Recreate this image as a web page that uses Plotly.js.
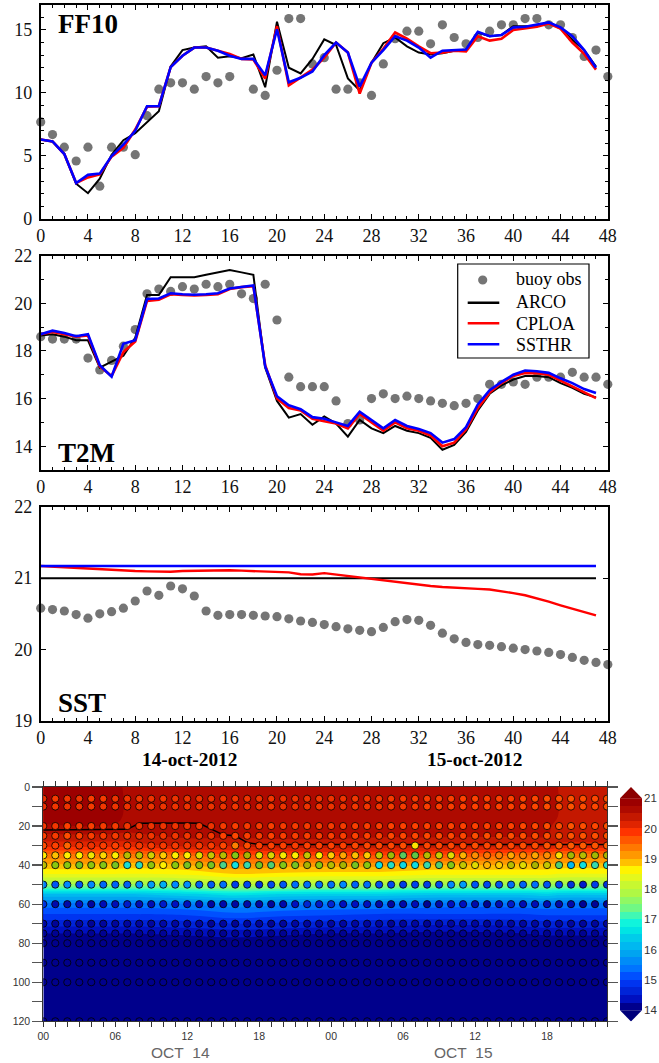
<!DOCTYPE html>
<html><head><meta charset="utf-8">
<script src="https://cdn.plot.ly/plotly-3.0.1.min.js"></script>
<style>html,body{margin:0;padding:0;background:#fff}#p{width:659px;height:1063px}</style></head>
<body><div id="p"></div>
<script>
const hours=[0,1,2,3,4,5,6,7,8,9,10,11,12,13,14,15,16,17,18,19,20,21,22,23,24,25,26,27,28,29,30,31,32,33,34,35,36,37,38,39,40,41,42,43,44,45,46,47];
const obsHours=[0,1,2,3,4,5,6,7,8,9,10,11,12,13,14,15,16,17,18,19,20,21,22,23,24,25,26,27,28,29,30,31,32,33,34,35,36,37,38,39,40,41,42,43,44,45,46,47,48];

const ffObs=[7.7,6.7,5.7,4.6,5.7,2.6,5.7,5.7,5.1,8.2,10.3,10.8,10.8,10.3,11.3,10.8,11.3,null,10.3,9.8,11.8,15.9,15.9,12.3,12.8,10.3,10.3,10.8,9.8,12.3,14.3,14.9,14.9,13.9,15.4,14.4,13.9,14.4,14.9,15.4,15.4,15.9,15.9,15.4,15.4,14.4,12.9,13.4,11.3];
const ffArco=[6.3,6.15,5.15,2.8,2.05,3.2,5.1,6.25,6.8,7.65,8.55,12.1,13.4,13.6,13.7,12.8,12.9,12.75,13.05,10.45,15.65,12.0,11.55,12.7,14.25,13.8,11.15,10.2,12.4,13.95,14.4,13.7,13.2,13.05,13.15,13.35,13.45,14.8,14.5,14.6,15.3,15.3,15.3,15.6,15.1,14.2,13.4,12.1];
const ffCploa=[6.3,6.15,5.15,2.85,3.3,3.55,4.95,5.65,7.1,8.9,8.95,12.05,12.95,13.6,13.6,13.35,13.1,12.7,12.65,11.15,15.3,10.6,11.2,11.85,12.8,14.0,13.2,9.95,12.4,13.5,14.8,14.3,13.7,13.15,13.2,13.35,13.3,14.5,14.15,14.3,15.0,15.1,15.25,15.5,15.1,14.0,13.1,11.85];
const ffSsthr=[6.3,6.15,5.15,2.85,3.5,3.6,5.0,5.9,7.0,8.95,8.95,12.05,12.95,13.6,13.6,13.35,12.95,12.7,12.7,11.4,15.05,10.85,11.2,11.7,13.0,14.0,13.2,10.5,12.4,13.4,14.5,14.15,13.6,12.8,13.35,13.4,13.45,14.85,14.5,14.6,15.2,15.25,15.4,15.6,15.2,14.5,13.4,12.0];

const t2Obs=[18.6,18.5,18.5,18.5,17.7,17.2,17.6,18.2,18.9,20.4,20.6,20.5,20.7,20.6,20.8,20.7,20.8,20.4,20.2,20.8,19.3,16.9,16.5,16.5,16.5,15.9,14.95,15.1,16.0,16.2,16.0,16.1,16.0,15.9,15.8,15.7,15.8,16.0,16.6,16.6,16.7,16.6,16.9,16.9,16.9,17.1,16.9,16.9,16.6];
const t2Arco=[18.65,18.7,18.6,18.45,18.45,17.3,17.55,17.8,18.55,20.35,20.35,21.1,21.1,21.1,21.2,21.3,21.4,21.3,21.2,17.3,15.9,15.2,15.35,14.9,15.25,14.95,14.4,15.1,14.75,14.55,14.85,14.65,14.55,14.35,13.85,14.05,14.6,15.5,16.2,16.55,16.8,16.95,16.95,16.9,16.65,16.45,16.2,16.05];
const t2Cploa=[18.7,18.8,18.7,18.6,18.65,17.35,16.95,17.95,18.4,20.1,20.15,20.38,20.35,20.33,20.35,20.38,20.6,20.68,20.72,17.4,16.0,15.6,15.5,15.15,15.05,14.95,14.75,15.35,15.0,14.65,15.0,14.75,14.65,14.45,14.0,14.15,14.7,15.6,16.25,16.65,16.95,17.07,17.07,17.0,16.75,16.5,16.25,16.02];
const t2Ssthr=[18.7,18.85,18.75,18.62,18.7,17.4,16.92,18.3,18.45,20.18,20.2,20.42,20.38,20.36,20.38,20.42,20.62,20.7,20.75,17.35,16.1,15.72,15.55,15.22,15.15,15.0,14.85,15.45,15.1,14.75,15.1,14.85,14.72,14.55,14.15,14.3,14.8,15.75,16.35,16.7,17.0,17.18,17.15,17.08,16.85,16.65,16.4,16.23];

const sstObs=[20.58,20.56,20.54,20.49,20.44,20.5,20.53,20.58,20.68,20.82,20.76,20.89,20.85,20.75,20.54,20.48,20.49,20.49,20.48,20.47,20.46,20.43,20.4,20.38,20.35,20.32,20.29,20.27,20.25,20.31,20.39,20.42,20.41,20.34,20.23,20.15,20.1,20.07,20.06,20.04,20.02,20.0,19.98,19.96,19.93,19.89,19.85,19.82,19.79];
const sstArco=[21,21,21,21,21,21,21,21,21,21,21,21,21,21,21,21,21,21,21,21,21,21,21,21,21,21,21,21,21,21,21,21,21,21,21,21,21,21,21,21,21,21,21,21,21,21,21,21];
const sstCploa=[21.17,21.16,21.15,21.14,21.13,21.12,21.115,21.11,21.1,21.095,21.09,21.09,21.1,21.105,21.105,21.11,21.11,21.105,21.1,21.095,21.09,21.08,21.055,21.05,21.07,21.05,21.03,21.0,20.98,20.96,20.94,20.92,20.905,20.89,20.875,20.87,20.86,20.85,20.84,20.82,20.79,20.76,20.72,20.67,20.62,20.57,20.52,20.48];
const sstSsthr=[21.17,21.17,21.17,21.17,21.17,21.17,21.17,21.17,21.17,21.17,21.17,21.17,21.17,21.17,21.17,21.17,21.17,21.17,21.17,21.17,21.17,21.17,21.17,21.17,21.17,21.17,21.17,21.17,21.17,21.17,21.17,21.17,21.17,21.17,21.17,21.17,21.17,21.17,21.17,21.17,21.17,21.17,21.17,21.17,21.17,21.17,21.17,21.17];

// buoy temperature at each depth, hours 0..47
const buoyDepths=[6,10,20,25,30,35,40,50,60,70,75,80,90,100,120];
const b6=[20.2,20.1,20.15,20.2,20.05,20.1,20.2,20.2,20.15,20.2,20.15,20.2,20.2,20.2,20.2,20.15,20.15,20.2,20.2,20.15,20.2,20.2,20.2,20.15,20.2,20.2,20.15,20.15,20.15,20.1,20.1,20.1,20.05,20.05,20.05,20,20,20,20,20,19.95,19.95,19.9,19.9,19.85,19.9,19.95,19.85];
const b10=[20.2,20.15,20.2,20.2,20.1,20.15,20.2,20.2,20.2,20.2,20.2,20.2,20.2,20.2,20.2,20.2,20.15,20.2,20.2,20.15,20.2,20.2,20.2,20.15,20.2,20.2,20.15,20.15,20.15,20.1,20.1,20.1,20.05,20.05,20.05,20,20,20,20,20,19.95,19.95,19.9,19.9,19.85,19.9,19.95,19.85];
const b20=[20.1,20.15,20.0,20.1,20.05,20.1,20.1,20.15,20.2,20.2,20.2,20.2,20.2,20.15,20.2,20.1,20.05,20.1,20.1,20.05,20.1,20.1,20.1,20.1,20.1,20.1,20.05,20.05,20.05,20.0,20.0,20.0,20.0,20.0,20.0,20,20,20,20,20,19.95,19.95,19.9,19.9,19.85,19.9,19.95,19.85];
const b25=[20.0,20.1,19.9,20.0,20.05,20.1,20.1,20.1,20.15,20.15,20.15,20.15,20.15,20.15,20.15,20.0,19.95,20.05,20.05,20.0,20.05,20.05,20.05,20.05,20.05,20.05,20.0,20.0,20.0,19.95,19.95,19.95,19.95,19.95,19.95,19.95,19.9,19.9,19.9,19.9,19.9,19.9,19.9,19.85,19.85,19.85,19.9,19.85];
const b30=[19.9,20.0,19.7,20.1,20.2,20.05,20.0,20.05,20.1,20.1,20.1,20.1,20.1,20.05,20.05,19.95,19.5,19.9,20.0,20.0,20.0,20.05,20.0,20.0,20.0,20.0,19.95,19.95,19.95,19.95,19.9,18.7,19.95,19.95,19.95,19.95,19.9,19.95,19.9,19.95,19.9,19.9,19.85,19.8,19.8,19.8,19.85,19.8];
const b35=[18.6,19.0,18.6,18.6,18.5,18.8,18.6,18.1,18.15,18.3,18.9,18.6,18.6,18.4,18.2,18.1,17.7,18.0,18.45,18.35,18.55,18.6,18.2,18.6,18.9,19.2,19.0,18.9,18.2,17.9,17.3,17.4,18.1,18.25,18.4,19.1,19.4,19.6,19.5,19.2,19.4,19.2,19.4,18.75,17.95,18.1,17.95,18.0];
const b40=[18.1,17.75,17.75,17.6,17.8,17.7,17.6,16.6,16.8,17.8,18.6,17.75,17.6,17.85,17.6,17.1,16.5,16.9,17.6,17.2,17.7,17.6,18.0,17.75,18.1,18.0,17.6,17.75,16.5,16.7,16.4,16.45,16.9,17.2,17.7,18.2,18.4,19.1,18.9,18.1,18.4,18.0,18.2,17.2,16.0,16.5,16.9,16.7];
const b50=[15.4,15.1,15.5,15.1,15.5,15.25,15.2,15.2,15.6,15.7,15.9,15.5,15.55,15.2,15.15,15.3,14.9,15.0,14.8,15.0,15.1,15.3,15.3,15.3,15.3,15.5,15.2,15.3,15.05,15.0,14.9,14.95,14.9,15.0,15.5,15.7,15.1,15.0,15.1,15.3,15.2,15.3,15.1,15.0,14.8,14.6,14.9,14.8];
const b60=[14.8,14.3,14.3,14.5,14.2,14.4,14.4,14.6,14.4,14.4,14.6,14.5,14.5,14.4,14.2,14.3,14.2,14.3,14.25,14.15,14.3,14.5,14.7,14.6,14.7,14.5,14.5,14.5,14.3,14.2,14.3,14.4,14.1,14.3,14.5,14.5,14.3,14.1,14.4,14.6,14.4,14.4,14.4,14.3,14.3,14.1,14.1,14.1];
const b70=[14.2,14.1,14.15,14.15,14.1,14.15,14.15,14.2,14.2,14.2,14.25,14.2,14.2,14.2,14.1,14.15,14.1,14.15,14.15,14.1,14.15,14.2,14.2,14.2,14.2,14.2,14.2,14.2,14.2,14.1,14.15,14.2,14.1,14.2,14.2,14.2,14.2,14.15,14.2,14.2,14.2,14.2,14.2,14.2,14.2,14.15,14.15,14.15];
const b75=[14.1,14.05,14.05,14.05,14.05,14.05,14.05,14.05,14.05,14.05,14.1,14.05,14.05,14.05,14.05,14.05,14.05,14.05,14.05,14.05,14.05,14.05,14.05,14.05,14.05,14.05,14.05,14.05,14.05,14.05,14.05,14.05,14.05,14.05,14.05,14.05,14.05,14.05,14.05,14.05,14.05,14.05,14.05,14.05,14.05,14.05,14.05,14.05];
const b80=[14,14,14,14,14,14,14,14,14,14,14,14,14,14,14,14,14,14,14,14,14,14,14,14,14,14,14,14,14,14,14,14,14,14,14,14,14,14,14,14,14,14,14,14,14,14,14,14];
const b90=[13.9,13.9,13.9,13.9,13.9,13.9,13.9,13.9,13.9,13.9,13.9,13.9,13.9,13.9,13.9,13.9,13.9,13.9,13.9,13.9,13.9,13.9,13.9,13.9,13.9,13.9,13.9,13.9,13.9,13.9,13.9,13.9,13.9,13.9,13.9,13.9,13.9,13.9,13.9,13.9,13.9,13.9,13.9,13.9,13.9,13.9,13.9,13.9];
const b100=b90, b120=b90;
const buoyRows=[b6,b10,b20,b25,b30,b35,b40,b50,b60,b70,b75,b80,b90,b100,b120];

// model temperature field behind the dots
const modelHours=[0,6,7,12,16,20,24,28,32,36,40,42,43,47];
const modelDepths=[0,15,20,25,30,35,40,45,50,55,60,65,70,75,80,90,120];
const m0=[20.87,20.87,20.67,20.65,20.65,20.65,20.65,20.62,20.62,20.6,20.6,20.6,20.49,20.4];
const m15=[20.87,20.87,20.67,20.65,20.65,20.65,20.65,20.62,20.62,20.6,20.6,20.6,20.49,20.4];
const m20=[20.72,20.72,20.6,20.6,20.6,20.6,20.6,20.55,20.55,20.55,20.55,20.55,20.42,20.4];
const m25=[20.45,20.45,20.45,20.55,20.55,20.55,20.55,20.52,20.52,20.52,20.52,20.52,20.38,20.38];
const m30=[20.1,20.1,20.1,20.35,20.3,20.4,20.4,20.4,20.4,20.35,20.35,20.35,20.2,20.2];
const m35=[19.4,19.4,19.4,19.5,19.7,19.7,19.8,19.75,19.7,19.6,19.5,19.5,19.4,19.4];
const m40=[18.95,18.95,18.9,19.0,19.2,19.1,19.1,19.1,19.0,19.0,18.95,18.95,18.9,18.9];
const m45=[18.45,18.45,18.45,18.5,18.7,18.65,18.6,18.6,18.5,18.5,18.5,18.5,18.45,18.45];
const m50=[17.7,17.7,17.7,17.8,17.95,17.9,17.85,17.85,17.75,17.75,17.75,17.75,17.7,17.7];
const m55=[16.2,16.2,16.2,16.4,16.6,16.45,16.4,16.4,16.3,16.3,16.3,16.4,16.3,16.3];
const m60=[15.4,15.4,15.4,15.5,15.65,15.55,15.5,15.5,15.4,15.35,15.4,15.45,15.4,15.4];
const m65=[15.0,15.0,15.0,15.05,15.2,15.1,15.05,15.0,15.0,15.0,15.0,15.05,15.05,15.05];
const m70=[14.6,14.6,14.6,14.65,14.75,14.7,14.65,14.6,14.55,14.55,14.6,14.65,14.65,14.65];
const m75=[14.25,14.25,14.25,14.3,14.35,14.3,14.25,14.25,14.2,14.2,14.25,14.3,14.3,14.3];
const m80=[14.0,14.0,14.0,14.05,14.1,14.05,14.0,14.0,14.0,14.0,14.0,14.05,14.05,14.05];
const m90=[13.9,13.9,13.9,13.9,13.9,13.9,13.9,13.9,13.9,13.9,13.9,13.9,13.9,13.9];
const m120=[13.9,13.9,13.9,13.9,13.9,13.9,13.9,13.9,13.9,13.9,13.9,13.9,13.9,13.9];
const modelRows=[m0,m15,m20,m25,m30,m35,m40,m45,m50,m55,m60,m65,m70,m75,m80,m90,m120];

const mixedLayer=[22,22,22,22,22,22,22,21.7,18.6,18.5,18.5,18.5,18.5,18.6,21.5,24.5,25,28.5,29.5,29.5,29.7,29.5,29.5,29.8,29.5,29.7,29.7,29.5,29.5,29.7,29.7,29.5,29.5,29.7,29.7,29.5,29.5,29.7,29.7,29.5,29.5,29.7,29.7,29.7,29.7,29.5,29.5,29.5];

// colour bands of the field: 14 to 21 in quarter-degree steps
const bandColors=['#00008c','#0010c0','#0024d8','#0034f0','#0050ff','#0074ff','#008cf8','#00a4f0','#00b8f0','#00ccea','#00e4e4','#10f4dc','#40f8b4','#70f884','#90f864','#b0f844','#c8f830','#e4f81c','#fff400','#ffc000','#ff9800','#ff7800','#ff5800','#ff3400','#e02400','#c41800','#ae0a00','#9c0000'];
const barLevels=[14,14.25,14.5,14.75,15,15.25,15.5,15.75,16,16.25,16.5,16.75,17,17.25,17.5,17.75,18,18.25,18.5,18.75,19,19.25,19.5,19.75,20,20.25,20.5,20.75,21];
const barMids=[14.125,14.375,14.625,14.875,15.125,15.375,15.625,15.875,16.125,16.375,16.625,16.875,17.125,17.375,17.625,17.875,18.125,18.375,18.625,18.875,19.125,19.375,19.625,19.875,20.125,20.375,20.625,20.875];
const barTicks=[14,15,16,17,18,19,20,21];
const legendNames=['buoy obs','ARCO','CPLOA','SSTHR'];

const W=659,H=1063;
const fx=p=>p/W, fy=p=>1-p/H;
const X0=40.7,X1=607.8;
const serif='"Liberation Serif",serif', sans='"Liberation Sans",sans-serif';
const cBlack='#000000',cRed='#ff0000',cBlue='#0000ff',cGrey='#757575';

function lineTrace(y,color,name,ax,lw){return {x:hours,y:y,mode:'lines',name:name,xaxis:'x'+ax,yaxis:'y'+ax,showlegend:false,
  line:{color:color,width:lw},cliponaxis:false,hoverinfo:'skip'};}
function obsTrace(y,ax){return {x:obsHours,y:y,mode:'markers',name:'buoy obs',xaxis:'x'+ax,yaxis:'y'+ax,showlegend:false,
  marker:{color:cGrey,size:9.2},cliponaxis:false,hoverinfo:'skip'};}

// contour fills sample the scale over [start-size/2, end+size/2]
const cStart=14,cEnd=21,cSize=.25;
const sOf=v=>(v-(cStart-cSize/2))/(cEnd-cStart+cSize);
const contourScale=[];
bandColors.forEach((c,i)=>{const a=i===0?0:sOf(cStart+i*cSize),b=i===bandColors.length-1?1:sOf(cStart+(i+1)*cSize);contourScale.push([a,c],[b,c]);});
const barScale=[];
bandColors.forEach((c,i)=>{barScale.push([i/bandColors.length,c],[(i+1)/bandColors.length,c]);});

// dots: darker greens than the field's scale
const dotStops=[[14,'#00008c'],[14.5,'#0010c0'],[15,'#0048f0'],[15.5,'#0088ff'],[16,'#00b8f0'],[16.5,'#10e0e0'],[17,'#40d8a0'],[17.5,'#68c030'],[17.75,'#88c810'],[18,'#a8b400'],[18.3,'#d0d000'],[18.6,'#fff000'],[19,'#ffc000'],[19.5,'#ff8000'],[20,'#ff4000'],[20.5,'#d82000'],[21,'#a00000']];
const dotScale=dotStops.map(d=>[(d[0]-14)/7,d[1]]);

const dotX=[],dotY=[],dotC=[];
buoyRows.forEach((r,i)=>r.forEach((v,h)=>{dotX.push(hours[h]);dotY.push(buoyDepths[i]);dotC.push(v);}));

const data=[
 obsTrace(ffObs,1),lineTrace(ffArco,cBlack,'ARCO',1,2),lineTrace(ffCploa,cRed,'CPLOA',1,2.6),lineTrace(ffSsthr,cBlue,'SSTHR',1,2.6),
 obsTrace(t2Obs,2),lineTrace(t2Arco,cBlack,'ARCO',2,2),lineTrace(t2Cploa,cRed,'CPLOA',2,2.6),lineTrace(t2Ssthr,cBlue,'SSTHR',2,2.6),
 obsTrace(sstObs,3),lineTrace(sstArco,cBlack,'ARCO',3,2),lineTrace(sstCploa,cRed,'CPLOA',3,2.4),lineTrace(sstSsthr,cBlue,'SSTHR',3,2.4),
 {type:'contour',x:modelHours,y:modelDepths,z:modelRows,xaxis:'x4',yaxis:'y4',showlegend:false,hoverinfo:'skip',showscale:false,
  autocontour:false,contours:{start:cStart,end:cEnd,size:cSize,coloring:'fill',showlines:false},line:{width:0},colorscale:contourScale},
 {x:hours,y:mixedLayer,mode:'lines',xaxis:'x4',yaxis:'y4',showlegend:false,hoverinfo:'skip',line:{color:'#000',width:1.5}},
 {x:dotX,y:dotY,mode:'markers',xaxis:'x4',yaxis:'y4',showlegend:false,hoverinfo:'skip',
  marker:{size:7.2,color:dotC,colorscale:dotScale,cmin:14,cmax:21,showscale:false,line:{color:'rgba(0,0,0,.8)',width:1}}},
 // colour key drawn as its own small axes
 {type:'heatmap',x:[0,1],y:barLevels,z:barMids.map(v=>[v]),xaxis:'x5',yaxis:'y5',zmin:14,zmax:21,colorscale:barScale,showscale:false,hoverinfo:'skip',showlegend:false},
 {x:[0,0.5,1,0],y:[21,21.37,21,21],mode:'lines',fill:'toself',fillcolor:'#8b0000',line:{width:0,color:'#8b0000'},xaxis:'x5',yaxis:'y5',showlegend:false,hoverinfo:'skip',cliponaxis:false},
 {x:[0,0.5,1,0],y:[14,13.63,14,14],mode:'lines',fill:'toself',fillcolor:'#00007a',line:{width:0,color:'#00007a'},xaxis:'x5',yaxis:'y5',showlegend:false,hoverinfo:'skip',cliponaxis:false}
];

const xTop={range:[0,48],tickmode:'linear',tick0:0,dtick:4,ticks:'inside',ticklen:5,tickwidth:1,tickcolor:'#000',showline:true,linewidth:1.8,linecolor:'#000',mirror:'allticks',
  showgrid:false,zeroline:false,tickfont:{family:serif,size:18,color:'#111'},minor:{ticks:'inside',ticklen:3,tickwidth:1,dtick:1,tickcolor:'#000',showgrid:false},domain:[fx(X0),fx(X1)]};
function yTop(top,bot,range,dt,minor){return Object.assign({},xTop,{range:range,dtick:dt,tick0:0,domain:[fy(bot),fy(top)],ticklabelstandoff:3,
  minor:minor?{ticks:'inside',ticklen:3,tickwidth:1,dtick:1,tickcolor:'#000',showgrid:false}:{ticks:''}});}
const ann=(t,x,y,size)=>({text:t,xref:'paper',yref:'paper',x:fx(x),y:fy(y),xanchor:'left',yanchor:'middle',showarrow:false,font:{family:serif,size:size,color:'#000'}});
const annC=(t,x,y,f)=>({text:t,xref:'paper',yref:'paper',x:fx(x),y:fy(y),xanchor:'center',yanchor:'middle',showarrow:false,font:f});
const paperShape=(o)=>Object.assign({xref:'paper',yref:'paper',layer:'above'},o);
const legendLine=(y,c)=>paperShape({type:'line',x0:fx(467.7),x1:fx(499.3),y0:fy(y),y1:fy(y),line:{color:c,width:2.4}});

const layout={width:W,height:H,margin:{l:0,r:0,t:0,b:0,pad:0,autoexpand:false},paper_bgcolor:'#fff',plot_bgcolor:'#fff',showlegend:false,
 xaxis1:Object.assign({},xTop,{anchor:'y1'}),xaxis2:Object.assign({},xTop,{anchor:'y2'}),xaxis3:Object.assign({},xTop,{anchor:'y3'}),
 yaxis1:Object.assign(yTop(4.7,219,[0,17],5,true),{anchor:'x1'}),
 yaxis2:Object.assign(yTop(255.7,470,[13,22],2,true),{anchor:'x2'}),
 yaxis3:Object.assign(yTop(506.7,721,[19,22],1,false),{anchor:'x3'}),
 xaxis4:{anchor:'y4',domain:[fx(43.3),fx(607)],range:[0,47],tickmode:'array',tickvals:[0,6,12,18,24,30,36,42],ticktext:['00','06','12','18','00','06','12','18'],
   ticks:'outside',ticklen:5,tickwidth:1,tickcolor:'#333',showline:true,linewidth:1,linecolor:'#333',mirror:'allticks',showgrid:false,zeroline:false,
   tickfont:{family:sans,size:10.5,color:'#333'},minor:{ticks:'outside',ticklen:5,tickwidth:1,dtick:1,tickcolor:'#333',showgrid:false}},
 yaxis4:{anchor:'x4',domain:[fy(1021.3),fy(787)],range:[120,0],tickmode:'linear',tick0:0,dtick:20,ticks:'outside',ticklen:10,tickwidth:1.2,tickcolor:'#555',showline:true,linewidth:1,linecolor:'#333',mirror:'allticks',
   showgrid:false,zeroline:false,tickfont:{family:sans,size:10.5,color:'#333'},minor:{ticks:'outside',ticklen:10,tickwidth:1.2,dtick:10,tickcolor:'#555',showgrid:false}},
 xaxis5:{anchor:'y5',domain:[fx(620),fx(642)],range:[0,1],visible:false,fixedrange:true},
 yaxis5:{anchor:'x5',side:'right',domain:[fy(1021.5),fy(787)],range:[13.63,21.37],tickmode:'array',tickvals:barTicks,ticks:'',showline:false,showgrid:false,zeroline:false,
   ticklabelstandoff:1,tickfont:{family:sans,size:11.5,color:'#333'}},
 annotations:[
  ann('<b>FF10</b>',55.5,24,27),ann('<b>T2M</b>',55.5,453,27),ann('<b>SST</b>',55.5,703,27),
  annC('<b>14-oct-2012</b>',189.5,759.5,{family:serif,size:19.3,color:'#000'}),annC('<b>15-oct-2012</b>',474,759.5,{family:serif,size:19.3,color:'#000'}),
  annC('OCT\u00a0\u00a014',181,1052,{family:sans,size:15.5,color:'#666'}),annC('OCT\u00a0\u00a015',463,1052,{family:sans,size:15.5,color:'#666'}),
  ann(legendNames[0],514,278.5,18),ann(legendNames[1],514,302.5,18),ann(legendNames[2],514,324,18),ann(legendNames[3],514,344.5,18)
 ],
 shapes:[
  paperShape({type:'rect',x0:fx(457.7),x1:fx(589),y0:fy(264),y1:fy(358),fillcolor:'#fff',line:{color:'#000',width:1.2}}),
  paperShape({type:'circle',x0:fx(478.1),x1:fx(487.3),y0:fy(275.4),y1:fy(284.6),fillcolor:cGrey,line:{width:0}}),
  legendLine(302.7,cBlack),legendLine(323.3,cRed),legendLine(344.3,cBlue)
 ]
};
Plotly.newPlot('p',data,layout,{displayModeBar:false,staticPlot:true});
</script></body></html>
